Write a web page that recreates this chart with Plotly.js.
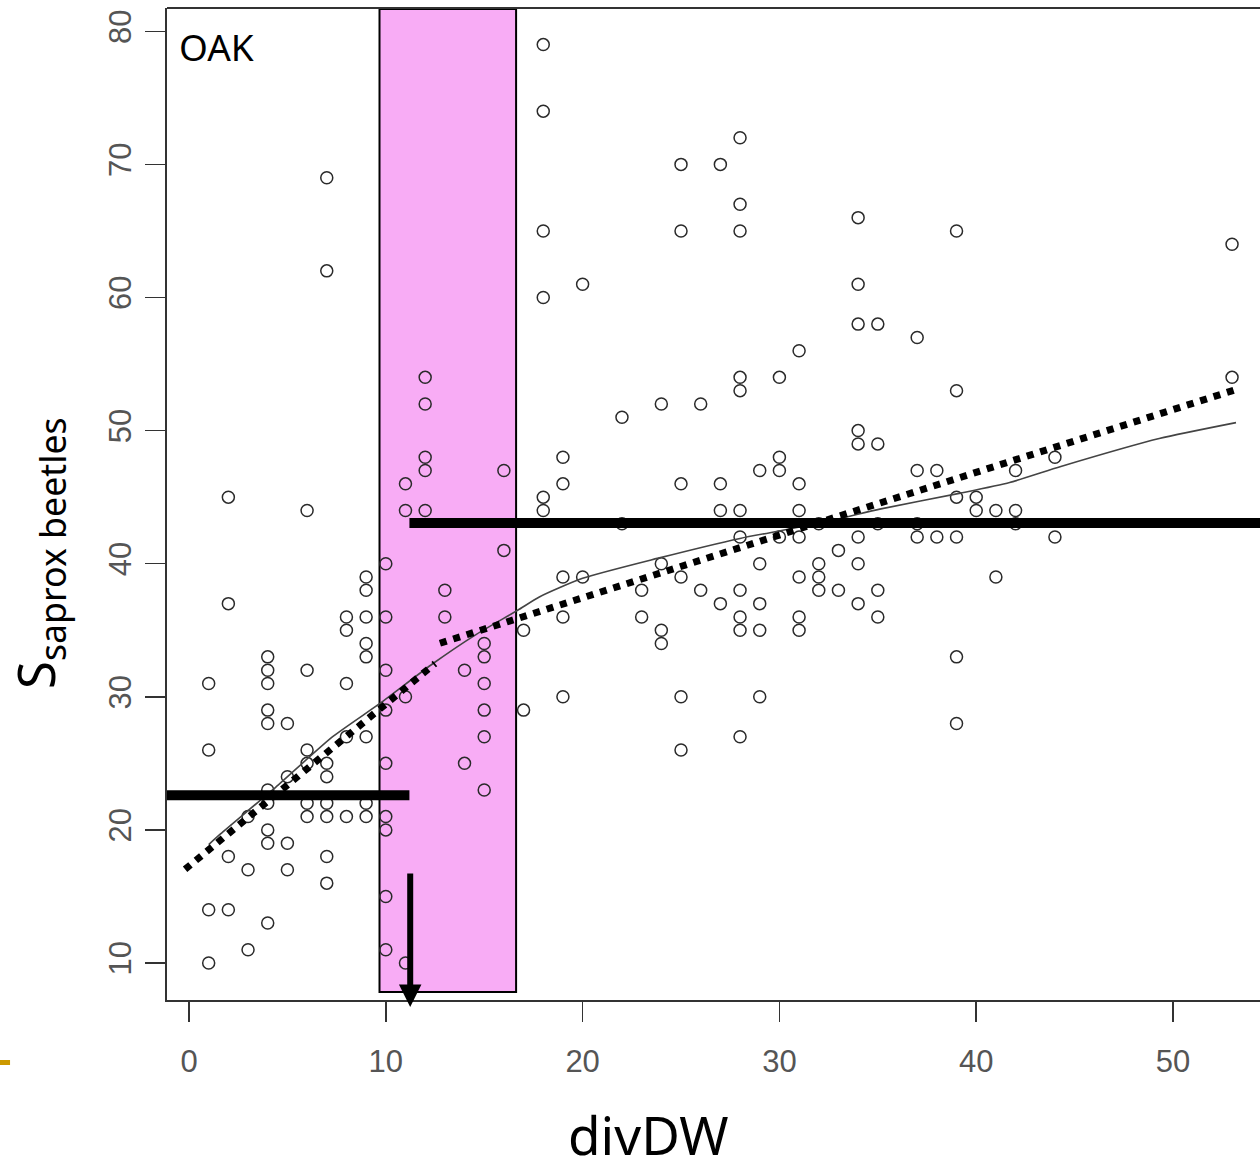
<!DOCTYPE html>
<html><head><meta charset="utf-8">
<script src="https://cdn.plot.ly/plotly-3.0.1.min.js"></script>
<style>html,body{margin:0;padding:0;background:#fff;overflow:hidden}#chart{width:1260px;height:1174px}</style>
</head><body><div id="chart"></div>
<script>
// Scatter data: divDW (x) and S saprox beetles (y)
const divDW = [
  1,1,1,1, 2,2,2,2, 3,3,3,
  4,4,4,4,4,4,4,4,4,4, 5,5,5,5, 6,6,6,6,6,6,
  7,7,7,7,7,7,7,7, 8,8,8,8,8, 9,9,9,9,9,9,9,9,
  10,10,10,10,10,10,10,10,10, 11,11,11,11, 12,12,12,12,12, 13,13, 14,14,
  15,15,15,15,15,15, 16,16, 17,17, 18,18,18,18,18,18, 19,19,19,19,19, 20,20,
  22,22, 23,23, 24,24,24,24, 25,25,25,25,25,25, 26,26, 27,27,27,27,
  28,28,28,28,28,28,28,28,28,28,28, 29,29,29,29,29, 30,30,30,30,
  31,31,31,31,31,31,31, 32,32,32,32, 33,33, 34,34,34,34,34,34,34,34,
  35,35,35,35,35, 37,37,37,37, 38,38, 39,39,39,39,39,39, 40,40, 41,41,
  42,42,42, 44,44, 53,53
];
const sSaprox = [
  31,26,14,10, 45,37,18,14, 21,17,11,
  33,32,31,29,28,23,22,20,19,13, 28,24,19,17, 44,32,26,25,22,21,
  69,62,25,24,22,21,18,16, 36,35,31,27,21, 39,38,36,34,33,27,22,21,
  40,36,32,29,25,21,20,15,11, 46,44,30,10, 54,52,48,47,44, 38,36, 32,25,
  34,33,31,29,27,23, 47,41, 35,29, 79,74,65,60,45,44, 48,46,39,36,30, 61,39,
  51,43, 38,36, 52,40,35,34, 70,65,46,39,30,26, 52,38, 70,46,44,37,
  72,67,65,54,53,44,42,38,36,35,27, 47,40,37,35,30, 54,48,47,42,
  56,46,44,42,39,36,35, 43,40,39,38, 41,38, 66,61,58,50,49,42,40,37,
  58,49,43,38,36, 57,47,43,42, 47,42, 65,53,45,42,33,28, 45,44, 44,39,
  47,44,43, 48,42, 64,54
];
// Smooth (loess-like) curve
const loessX = [1, 1.6, 4.4, 7.3, 9.7, 12.4, 14.5, 16.7, 17.8, 20, 23.8, 28, 30.5, 33.1, 35.1, 39.2, 41.7, 44.3, 49.3, 53.2];
const loessY = [18.9, 19.7, 23.2, 27.0, 29.5, 32.5, 34.6, 36.5, 37.5, 38.9, 40.4, 41.9, 42.6, 43.4, 44.1, 45.3, 46.1, 47.3, 49.4, 50.6];
// Piecewise (dotted) regression segments
const seg1X = [-0.2, 12.5], seg1Y = [17.04, 32.5];
const seg2X = [12.75, 53.4], seg2Y = [34.02, 53.18];
// Group means left / right of threshold
const breakX = 11.2;
const lowMean = 22.6, highMean = 43.05;
// Highlighted threshold band
const bandX = [9.68, 16.62];
const bandY = [7.82, 81.68];
// Arrow marking threshold
const arrowX = 11.24, arrowFromY = 16.84, arrowToY = 6.7;
// Axes
const xRange = [-1.118, 54.42];
const yRange = [7.22, 81.75];
const xTicks = [0, 10, 20, 30, 40, 50];
const yTicks = [10, 20, 30, 40, 50, 60, 70, 80];

const tickFont = {family: '"Liberation Sans", Arial, sans-serif', size: 31, color: '#555'};
const textFont = '"Noto Sans", "Open Sans", sans-serif';

const traces = [
  {x: divDW, y: sSaprox, type: 'scatter', mode: 'markers',
   marker: {symbol: 'circle-open', size: 12, color: '#2a2a2a', line: {width: 1.5, color: '#2a2a2a'}},
   hoverinfo: 'x+y', showlegend: false},
  {x: loessX, y: loessY, type: 'scatter', mode: 'lines',
   line: {color: '#444', width: 1.6, shape: 'spline', smoothing: 0.6}, showlegend: false},
  {x: [xRange[0], breakX], y: [lowMean, lowMean], type: 'scatter', mode: 'lines',
   line: {color: '#000', width: 10}, showlegend: false},
  {x: [breakX, xRange[1]], y: [highMean, highMean], type: 'scatter', mode: 'lines',
   line: {color: '#000', width: 10}, showlegend: false},
  {x: seg1X, y: seg1Y, type: 'scatter', mode: 'lines',
   line: {color: '#000', width: 7, dash: 'dot'}, showlegend: false},
  {x: seg2X, y: seg2Y, type: 'scatter', mode: 'lines',
   line: {color: '#000', width: 7, dash: 'dot'}, showlegend: false}
];

const layout = {
  width: 1260, height: 1174,
  margin: {l: 167, r: 0, t: 8, b: 174},
  paper_bgcolor: '#fff', plot_bgcolor: '#fff',
  showlegend: false,
  xaxis: {range: xRange, tickvals: xTicks, ticktext: xTicks.map(String),
    showgrid: false, zeroline: false, showline: true, linewidth: 2, linecolor: '#333',
    ticks: 'outside', ticklen: 20, tickwidth: 1.5, tickcolor: '#333',
    tickfont: tickFont, ticklabelstandoff: 13},
  yaxis: {range: yRange, tickvals: yTicks, ticktext: yTicks.map(String),
    showgrid: false, zeroline: false, showline: true, linewidth: 2, linecolor: '#333',
    ticks: 'outside', ticklen: 20, tickwidth: 1.5, tickcolor: '#333',
    tickfont: tickFont, tickangle: -90, ticklabelstandoff: 2},
  shapes: [
    {type: 'rect', layer: 'below', xref: 'x', yref: 'y',
     x0: bandX[0], x1: bandX[1], y0: bandY[0], y1: bandY[1],
     fillcolor: '#f8acf5', line: {color: '#000', width: 2}},
    {type: 'line', xref: 'paper', yref: 'paper', x0: 0, x1: 1, y0: 1, y1: 1,
     line: {color: '#333', width: 2}},
    {type: 'rect', xref: 'paper', yref: 'paper',
     x0: -0.1528, x1: -0.1436, y0: -0.0605, y1: -0.0655,
     fillcolor: '#cc9900', line: {width: 0}}
  ],
  annotations: [
    {x: arrowX, y: arrowToY, ax: arrowX, ay: arrowFromY, xref: 'x', yref: 'y', axref: 'x', ayref: 'y',
     showarrow: true, arrowhead: 2, arrowwidth: 6, arrowsize: 0.75, arrowcolor: '#000', text: ''},
    {text: 'OAK', xref: 'paper', yref: 'paper', x: (177 - 167) / 1093, y: (1000 - 47) / 992,
     xanchor: 'left', yanchor: 'middle', showarrow: false,
     font: {family: textFont, size: 37, color: '#000'}},
    {text: 'divDW', xref: 'paper', yref: 'paper', x: (648 - 167) / 1093, y: (1000 - 1173) / 992,
     xanchor: 'center', yanchor: 'bottom', showarrow: false,
     font: {family: textFont, size: 53, color: '#000'}},
    {text: 'S<sub>saprox beetles</sub>', xref: 'paper', yref: 'paper', x: (38 - 167) / 1093, y: (1000 - 553) / 992,
     xanchor: 'center', yanchor: 'middle', textangle: -90, showarrow: false,
     font: {family: textFont, size: 51, color: '#000'}}
  ]
};

Plotly.newPlot('chart', traces, layout, {displayModeBar: false, staticPlot: true});
</script>
</body></html>
